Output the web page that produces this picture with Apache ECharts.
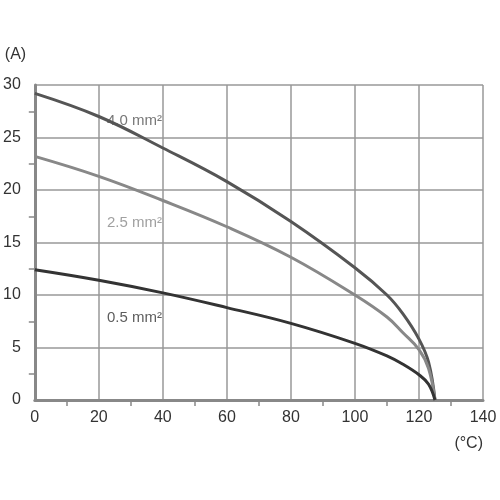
<!DOCTYPE html>
<html><head><meta charset="utf-8">
<script src="https://cdn.jsdelivr.net/npm/echarts@6/dist/echarts.min.js"></script>
<style>html,body{margin:0;background:#fff}#c{width:500px;height:500px}</style>
</head><body><div id="c"></div>
<script>
var temps = [0, 20, 40, 60, 80, 100, 110, 115, 120, 123, 125];
var wire40 = [29.2, 27, 24, 20.8, 17, 12.6, 10, 8.2, 5.8, 3.6, 0];
var wire25 = [23.2, 21.3, 19, 16.5, 13.6, 10, 7.9, 6.4, 4.8, 3, 0];
var wire05 = [12.4, 11.4, 10.2, 8.8, 7.3, 5.4, 4.2, 3.4, 2.4, 1.5, 0];
var labels = ["4.0 mm²", "2.5 mm²", "0.5 mm²"];
var labelPos = [[105, 26.6, "#555"], [105, 16.9, "#888"], [105, 7.8, "#333"]];

function pairs(ys) { return temps.map(function (t, i) { return [t, ys[i]]; }); }

var chart = echarts.init(document.getElementById("c"));
var font = "Liberation Sans Narrow, Liberation Sans, sans-serif";
function line(ys, color) {
  return { type: "line", data: pairs(ys), smooth: 0.4, symbol: "none",
    lineStyle: { color: color, width: 3 } };
}
var series = [line(wire40, "#555"), line(wire25, "#888"), line(wire05, "#333")];
series.push({
  type: "scatter", symbolSize: 0,
  data: labelPos.map(function (p, i) { return { value: [p[0] / 3.2 + 0, p[1]], name: labels[i], itemStyle: { color: p[2] } }; }),
  label: { show: true, position: "right", formatter: "{b}", fontFamily: font, fontSize: 15,
    color: "#555" }
});
series[3].data = labelPos.map(function (p, i) {
  return { value: [[21, 21, 21][i], p[1]], name: labels[i],
    label: { color: ["#555", "#888", "#333"][i] } };
});
chart.setOption({
  animation: false,
  grid: { left: 32, right: 17, top: 85, bottom: 100 },
  xAxis: { type: "value", min: 0, max: 140, interval: 20,
    axisLine: { lineStyle: { color: "#888", width: 3 } },
    axisTick: { show: false },
    minorTick: { show: true, splitNumber: 2, length: 6, lineStyle: { color: "#888", width: 1.5 } },
    splitLine: { lineStyle: { color: "#999", width: 1.5 } },
    axisLabel: { color: "#333", fontSize: 16, fontFamily: font, margin: 10 },
    name: "(°C)", nameLocation: "end", nameGap: 0,
    nameTextStyle: { color: "#333", fontSize: 16, fontFamily: font, align: "right", verticalAlign: "top", padding: [36, 0, 0, 0] } },
  yAxis: { type: "value", min: 0, max: 30, interval: 5,
    axisLine: { show: true, lineStyle: { color: "#888", width: 3 } },
    axisTick: { show: false },
    minorTick: { show: true, splitNumber: 2, length: 6, lineStyle: { color: "#888", width: 1.5 } },
    splitLine: { lineStyle: { color: "#999", width: 1.5 } },
    axisLabel: { color: "#333", fontSize: 16, fontFamily: font, margin: 14 },
    name: "(A)", nameGap: 22,
    nameTextStyle: { color: "#333", fontSize: 16, fontFamily: font, align: "left", padding: [0, 0, 0, -30] } },
  series: series
});
</script></body></html>
